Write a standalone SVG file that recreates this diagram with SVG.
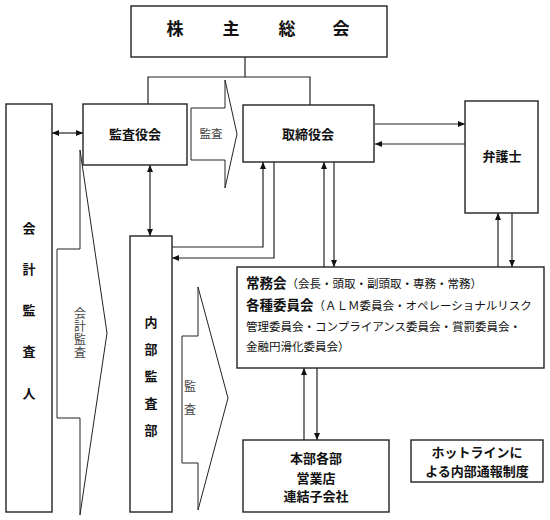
<svg xmlns="http://www.w3.org/2000/svg" width="550" height="520" viewBox="0 0 550 520">
<defs>
<style>
.box{fill:#fff;stroke:#222;stroke-width:1.4}
.blk{fill:#fff;stroke:#222;stroke-width:1}
.ln{fill:none;stroke:#222;stroke-width:1.2}
.b{font-family:"Noto Sans CJK JP","Noto Sans",sans-serif;font-weight:bold;fill:#111;text-anchor:middle;dominant-baseline:central}
.s{font-family:"Noto Sans CJK JP","Noto Sans",sans-serif;fill:#444;text-anchor:middle;dominant-baseline:central}
.t{font-family:"Noto Sans CJK JP","Noto Sans",sans-serif;fill:#111}
</style>
<marker id="ah" viewBox="0 0 7 6" refX="7" refY="3" markerWidth="7" markerHeight="6" markerUnits="userSpaceOnUse" orient="auto-start-reverse">
<path d="M0,0 L7,3 L0,6 z" fill="#111"/>
</marker>
</defs>
<rect width="550" height="520" fill="#fff"/>

<g id="connectors">
<polyline class="ln" points="245,57 245,77"/>
<polyline class="ln" points="148,104 148,77 310,77 310,105"/>
<line class="ln" x1="52" y1="133" x2="83" y2="133" marker-start="url(#ah)" marker-end="url(#ah)"/>
<line class="ln" x1="150" y1="165" x2="150" y2="236" marker-start="url(#ah)" marker-end="url(#ah)"/>
<line class="ln" x1="375" y1="124" x2="465" y2="124" marker-end="url(#ah)"/>
<line class="ln" x1="465" y1="144" x2="375" y2="144" marker-end="url(#ah)"/>
<polyline class="ln" points="172,247 263,247 263,162" marker-end="url(#ah)"/>
<polyline class="ln" points="274,162 274,258 172,258" marker-end="url(#ah)"/>
<line class="ln" x1="324" y1="267" x2="324" y2="162" marker-end="url(#ah)"/>
<line class="ln" x1="334" y1="162" x2="334" y2="267" marker-end="url(#ah)"/>
<line class="ln" x1="498" y1="267" x2="498" y2="213" marker-end="url(#ah)"/>
<line class="ln" x1="512" y1="213" x2="512" y2="267" marker-end="url(#ah)"/>
<line class="ln" x1="304" y1="440" x2="304" y2="368" marker-end="url(#ah)"/>
<line class="ln" x1="317" y1="368" x2="317" y2="440" marker-end="url(#ah)"/>
</g>

<g id="shareholders">
<rect class="box" x="131" y="6" width="256" height="51"/>
<text class="b" font-size="17" y="27"><tspan x="175">株</tspan><tspan x="231">主</tspan><tspan x="287">総</tspan><tspan x="341">会</tspan></text>
</g>

<g id="auditors">
<rect class="box" x="6" y="104" width="46" height="408"/>
<text class="b" font-size="13" x="29" y="227">会</text>
<text class="b" font-size="13" x="29" y="268">計</text>
<text class="b" font-size="13" x="29" y="309">監</text>
<text class="b" font-size="13" x="29" y="350">査</text>
<text class="b" font-size="13" x="29" y="392">人</text>
</g>

<g id="audit-arrow-accounting">
<polygon class="blk" points="57,249 80,249 80,150 107,333 80,515 80,418 57,418"/>
<text font-family="'Noto Sans CJK JP','Noto Sans',sans-serif" fill="#444" font-size="12" writing-mode="vertical-rl" text-anchor="middle" x="80" y="333" letter-spacing="1">会計監査</text>
</g>

<g id="audit-board">
<rect class="box" x="83" y="104" width="104" height="61"/>
<text class="b" font-size="13" x="135" y="133">監査役会</text>
</g>

<g id="audit-arrow-top">
<polygon class="blk" points="191,108 225,108 225,80 237,134 225,188 225,160 191,160"/>
<text class="s" font-size="11.5" x="211" y="133">監査</text>
</g>

<g id="board">
<rect class="box" x="243" y="105" width="131" height="57"/>
<text class="b" font-size="13" x="308" y="133">取締役会</text>
</g>

<g id="lawyer">
<rect class="box" x="465" y="101" width="73" height="112"/>
<text class="b" font-size="13" x="502" y="155">弁護士</text>
</g>

<g id="internal-audit">
<rect class="box" x="130" y="236" width="42" height="276"/>
<text class="b" font-size="13" x="151" y="321">内</text>
<text class="b" font-size="13" x="151" y="348">部</text>
<text class="b" font-size="13" x="151" y="375">監</text>
<text class="b" font-size="13" x="151" y="402">査</text>
<text class="b" font-size="13" x="151" y="429">部</text>
</g>

<g id="audit-arrow-internal">
<polygon class="blk" points="182,336 198,336 198,287 228,398 198,510 198,463 182,463"/>
<text class="s" font-size="12" x="190" y="385">監</text>
<text class="s" font-size="12" x="190" y="408">査</text>
</g>

<g id="committees">
<rect class="box" x="237" y="267" width="307" height="101"/>
<text class="t" x="246" y="288"><tspan font-size="13.5" font-weight="bold">常務会</tspan><tspan font-size="11.5">（会長・頭取・副頭取・専務・常務）</tspan></text>
<text class="t" x="246" y="310"><tspan font-size="13.5" font-weight="bold">各種委員会</tspan><tspan font-size="11.5">（ＡＬＭ委員会・オペレーショナルリスク</tspan></text>
<text class="t" font-size="11.5" x="246" y="331">管理委員会・コンプライアンス委員会・賞罰委員会・</text>
<text class="t" font-size="11.5" x="246" y="351">金融円滑化委員会）</text>
</g>

<g id="departments">
<rect class="box" x="243" y="440" width="146" height="72"/>
<text class="b" font-size="13" x="316" y="457">本部各部</text>
<text class="b" font-size="13" x="316" y="477">営業店</text>
<text class="b" font-size="13" x="316" y="495">連結子会社</text>
</g>

<g id="hotline">
<rect class="box" x="411" y="440" width="132" height="42"/>
<text class="b" font-size="13" x="477" y="451">ホットラインに</text>
<text class="b" font-size="13" x="477" y="470">よる内部通報制度</text>
</g>
</svg>
